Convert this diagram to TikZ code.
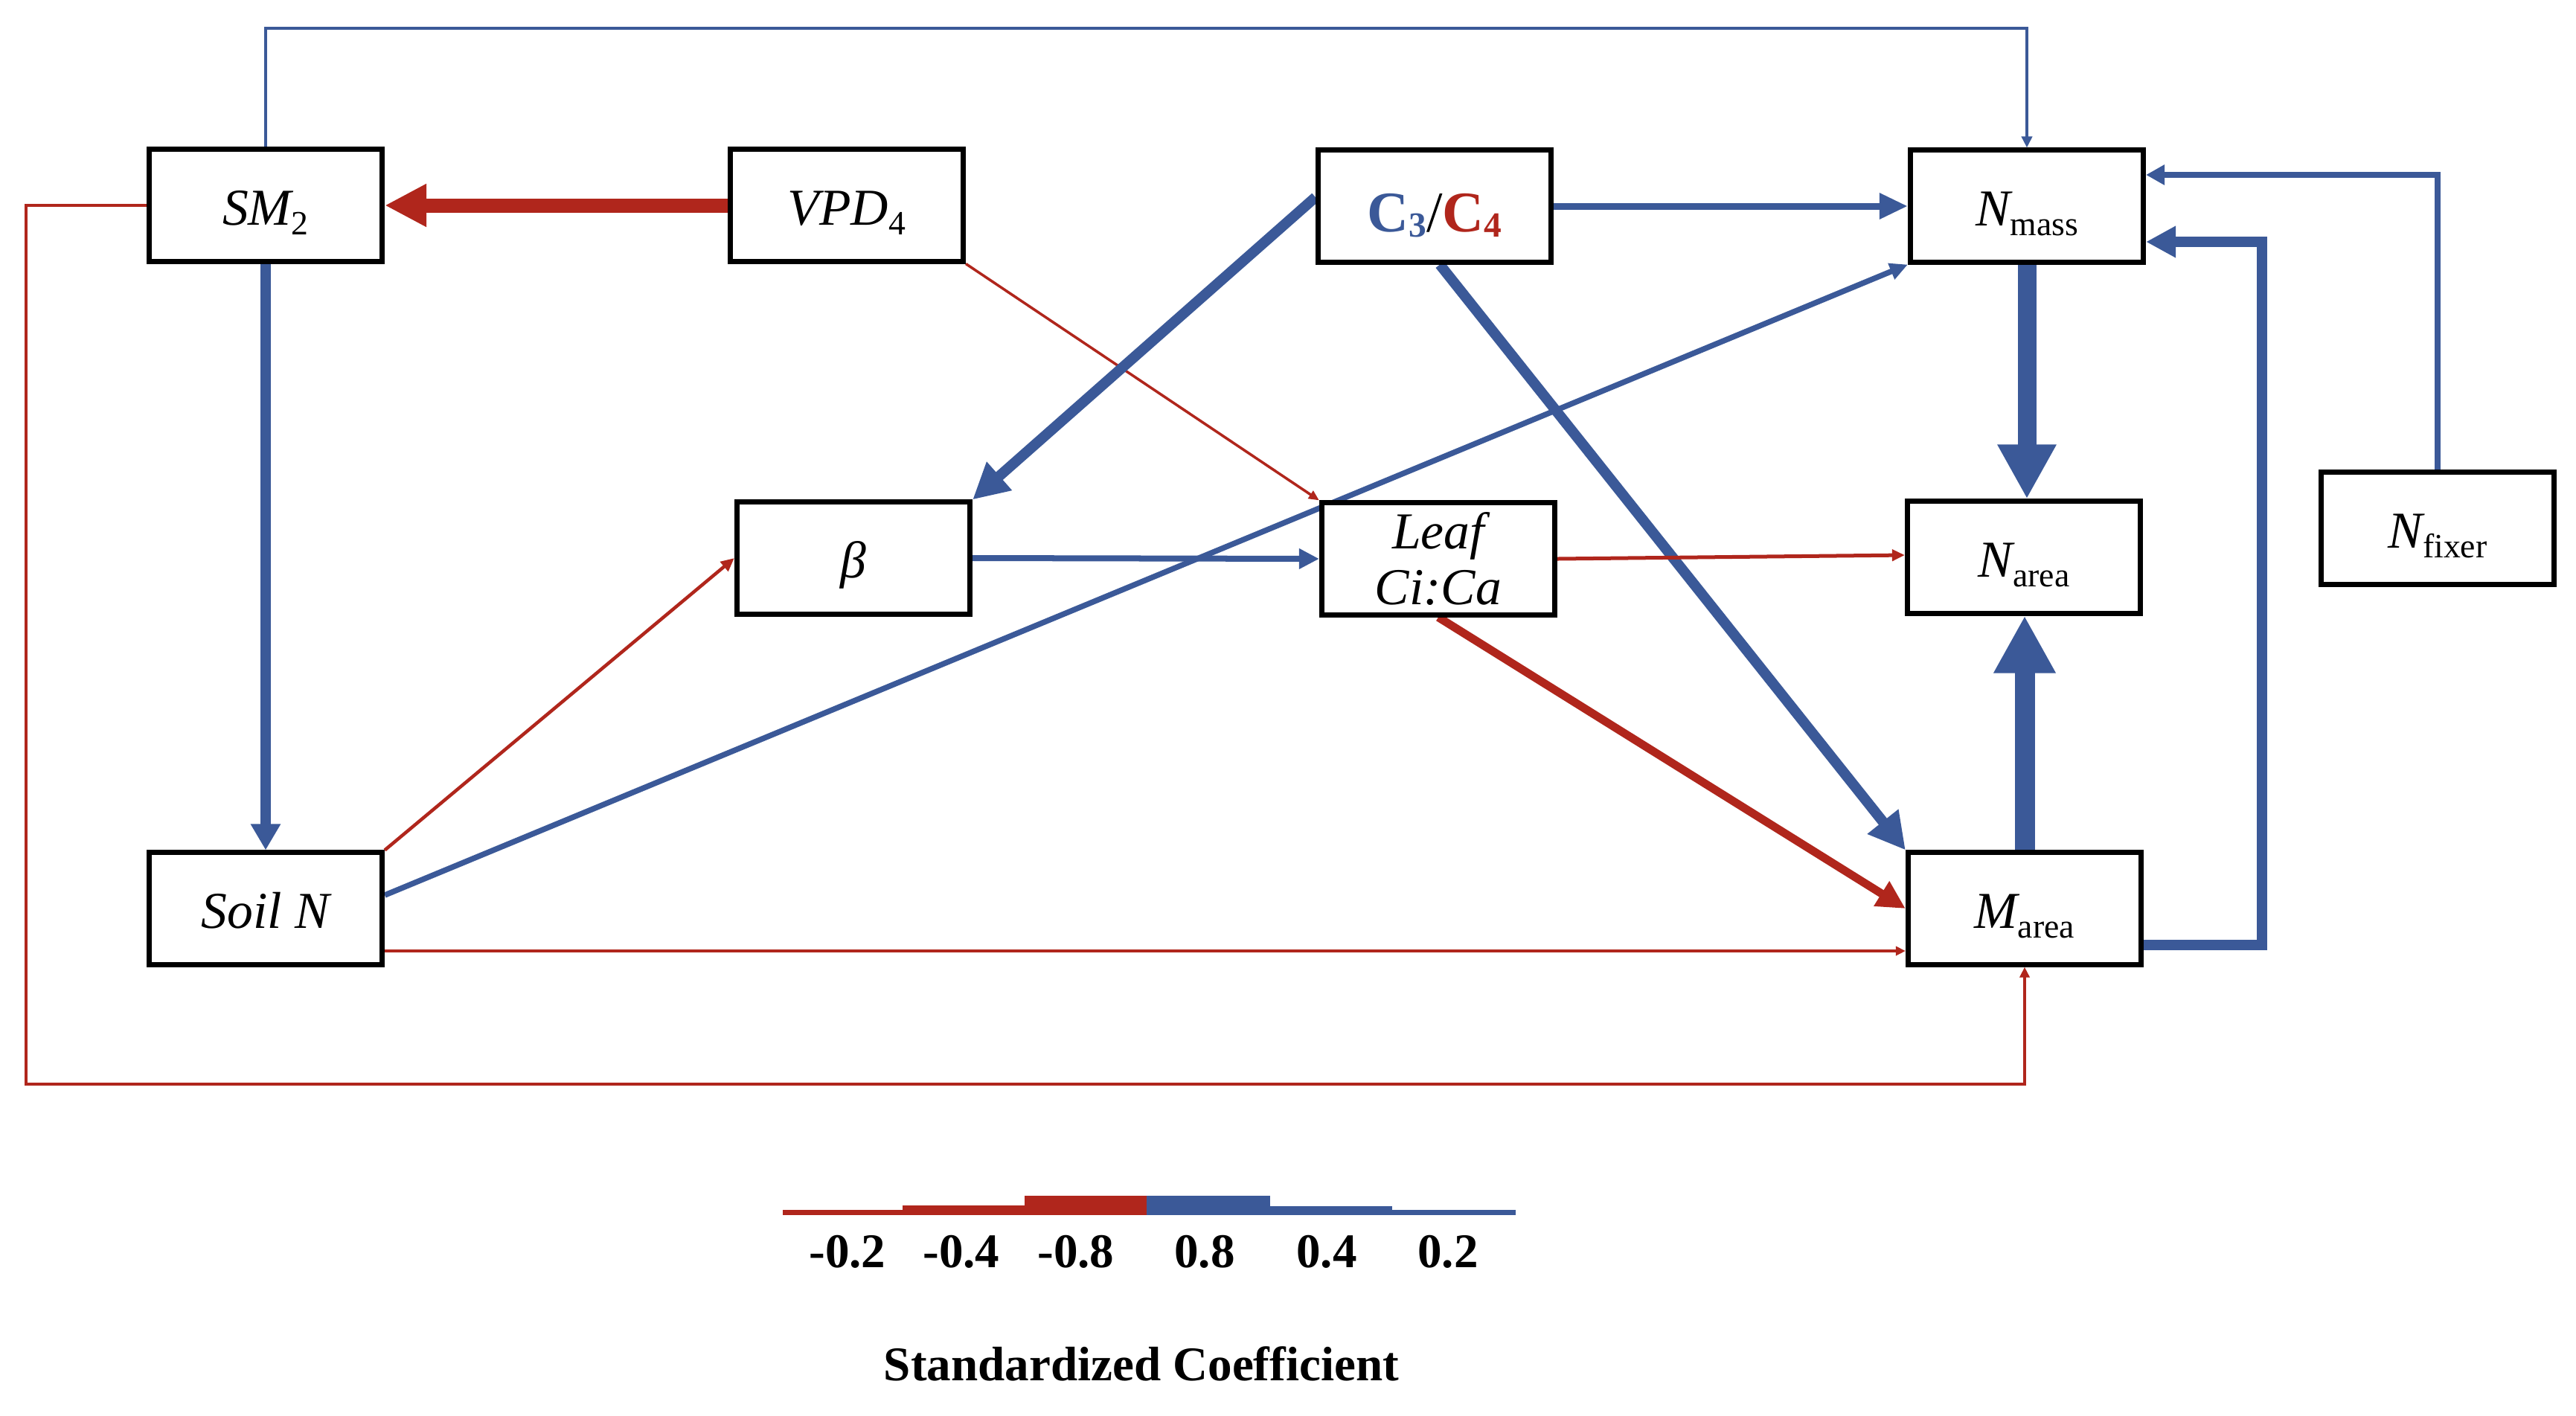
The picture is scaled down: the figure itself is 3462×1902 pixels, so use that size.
\documentclass[tikz,border=0pt]{standalone}
\usepackage{fontspec}
\setmainfont{Liberation Serif}
\usetikzlibrary{arrows.meta,calc}
\definecolor{cblue}{RGB}{59,89,152}
\definecolor{cred}{RGB}{176,38,28}
\newcommand\subtx[1]{\raisebox{-0.13cm}{\fontsize{13}{13}\selectfont\upshape #1}}
\newcommand\nodefnt{\fontsize{19.8}{22}\selectfont\itshape}
\pgfdeclarelayer{bg}
\pgfsetlayers{bg,main}
\begin{document}
\begin{tikzpicture}[x=0.01cm,y=-0.01cm,
  box/.style={draw=black, line width=0.07cm, fill=white, minimum width=3.13cm,
    minimum height=1.5cm, inner sep=0pt, align=center, font=\nodefnt},
  one/.style={text height=0.52cm, text depth=0cm},
  conn/.style n args={4}{draw=#1, line width=#2, line join=miter, -{Triangle[length=#3,width=#4]}},
  lgnum/.style={anchor=base, font=\fontsize{18.5}{20}\selectfont\bfseries, inner sep=0pt},
  lgbar/.style={inner sep=0pt}]
\useasboundingbox (0,0) rectangle (3462,1902);

% nodes
\node[box,one] (SM2)   at (357,276)  {SM\subtx{2}};
\node[box,one] (VPD4)  at (1138,276) {VPD\subtx{4}};
\node[box,text height=0.68cm,text depth=0cm,font=\fontsize{22}{24}\selectfont\bfseries] (C3C4) at (1928,277)
  {{\color{cblue}C\raisebox{-0.07cm}{\fontsize{13.5}{14}\selectfont 3}}{\mdseries/}{\color{cred}C\raisebox{-0.07cm}{\fontsize{13.5}{14}\selectfont 4}}};
\node[box,one] (Nmass) at (2724,277) {N\subtx{mass}};
\node[box,one] (beta)  at (1147,750) {β};
\node[box] (Leaf)      at (1933,751) {Leaf\\[-0.02cm]Ci:Ca};
\node[box,one] (Narea) at (2720,749) {N\subtx{area}};
\node[box,one] (Nfixer) at (3276,710) {N\subtx{fixer}};
\node[box,one] (SoilN) at (357,1221) {Soil N};
\node[box,one] (Marea) at (2721,1221) {M\subtx{area}};

\coordinate (topc) at (0,38);
\coordinate (leftc) at (35,0);
\coordinate (botc) at (0,1457);
\coordinate (loopx) at (3040,0);

\begin{pgfonlayer}{bg}
% SM2 -> Nmass (top route)
\draw[conn={cblue}{0.04cm}{0.15cm}{0.14cm}] (SM2.north) -- (SM2.north |- topc) -- (Nmass.north |- topc) -- (Nmass.north);
% SM2 -> Marea (outer route)
\draw[conn={cred}{0.035cm}{0.14cm}{0.13cm}] (SM2.west) -- (SM2.west -| leftc) -- (leftc |- botc) -- (Marea.south |- botc) -- (Marea.south);
% VPD4 -> SM2
\draw[conn={cred}{0.19cm}{0.56cm}{0.54cm}] (VPD4.west) -- (SM2.east);
% VPD4 -> Leaf
\draw[conn={cred}{0.035cm}{0.14cm}{0.12cm}] (VPD4.south east) -- (Leaf.north west);
% C3C4 -> Nmass
\draw[conn={cblue}{0.09cm}{0.38cm}{0.33cm}] (C3C4.east) -- (Nmass.west);
% C3C4 -> beta
\draw[conn={cblue}{0.14cm}{0.48cm}{0.48cm}] ($(C3C4.west)+(0,-12)$) -- (beta.north east);
% C3C4 -> Marea
\draw[conn={cblue}{0.14cm}{0.49cm}{0.50cm}] ($(C3C4.south)+(7,0)$) -- (Marea.north west);
% Leaf -> Marea
\draw[conn={cred}{0.11cm}{0.38cm}{0.37cm}] (Leaf.south) -- (Marea.west);
% Leaf -> Narea
\draw[conn={cred}{0.05cm}{0.17cm}{0.15cm}] (Leaf.east) -- ($(Narea.west)+(0,-3)$);
% beta -> Leaf
\draw[conn={cblue}{0.08cm}{0.27cm}{0.26cm}] (beta.east) -- (Leaf.west);
% SoilN -> beta
\draw[conn={cred}{0.045cm}{0.18cm}{0.16cm}] (SoilN.north east) -- (beta.west);
% SoilN -> Nmass
\draw[conn={cblue}{0.075cm}{0.24cm}{0.22cm}] ($(SoilN.east)+(0,-18)$) -- (Nmass.south west);
% SoilN -> Marea
\coordinate (sn1) at ($(SoilN.east)+(0,57)$);
\draw[conn={cred}{0.035cm}{0.13cm}{0.12cm}] (sn1) -- (sn1 -| Marea.west);
% SM2 -> SoilN
\draw[conn={cblue}{0.13cm}{0.35cm}{0.38cm}] (SM2.south) -- (SoilN.north);
% Nmass -> Narea
\draw[conn={cblue}{0.25cm}{0.73cm}{0.74cm}] (Nmass.south) -- (Nmass.south |- Narea.north);
% Marea -> Narea
\draw[conn={cblue}{0.27cm}{0.77cm}{0.78cm}] (Marea.north) -- (Marea.north |- Narea.south);
% Marea -> Nmass (right loop)
\coordinate (m1) at ($(Marea.east)+(0,49)$);
\coordinate (n1) at ($(Nmass.east)+(0,48)$);
\draw[conn={cblue}{0.14cm}{0.40cm}{0.40cm}] (m1) -- (m1 -| loopx) -- (loopx |- n1) -- (n1);
% Nfixer -> Nmass
\coordinate (n2) at ($(Nmass.east)+(0,-42)$);
\draw[conn={cblue}{0.08cm}{0.25cm}{0.26cm}] (Nfixer.north) -- (Nfixer.north |- n2) -- (n2);
\end{pgfonlayer}

% legend
\fill[cred]  (1052,1633) rectangle (1213,1626);
\fill[cred]  (1213,1633) rectangle (1377,1620);
\fill[cred]  (1377,1633) rectangle (1541,1607);
\fill[cblue] (1541,1633) rectangle (1707,1607);
\fill[cblue] (1707,1633) rectangle (1871,1621);
\fill[cblue] (1871,1633) rectangle (2037,1626);

\node[lgnum] (l1) at (1139,1703) {-0.2};
\node[lgnum] (l2) at (1292,1703) {-0.4};
\node[lgnum] (l3) at (1446,1703) {-0.8};
\node[lgnum] (l4) at (1619,1703) {0.8};
\node[lgnum] (l5) at (1783,1703) {0.4};
\node[lgnum] (l6) at (1946,1703) {0.2};
\node[lgnum] (ltitle) at (1534,1855) {Standardized Coefficient};
\end{tikzpicture}
\end{document}
